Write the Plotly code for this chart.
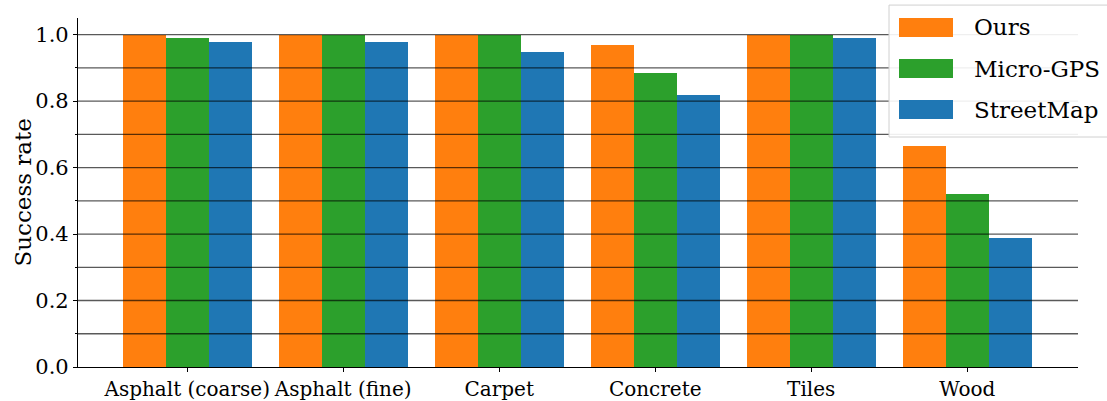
import plotly.graph_objects as go

categories = ["Asphalt (coarse)", "Asphalt (fine)", "Carpet", "Concrete", "Tiles", "Wood"]
ours = [1.0, 1.0, 1.0, 0.970, 1.0, 0.666]
micro_gps = [0.991, 0.998, 1.0, 0.886, 1.0, 0.521]
streetmap = [0.979, 0.979, 0.949, 0.819, 0.991, 0.389]

series = [
    ("Ours", ours, "#ff7f0e"),
    ("Micro-GPS", micro_gps, "#2ca02c"),
    ("StreetMap", streetmap, "#1f77b4"),
]
y_ticks = [0.0, 0.2, 0.4, 0.6, 0.8, 1.0]
grid_levels = [0.1, 0.2, 0.3, 0.4, 0.5, 0.6, 0.7, 0.8, 0.9, 1.0]

FONT = "DejaVu Serif"
bar_w = 0.275
xpos = list(range(len(categories)))

fig = go.Figure()
for i, (name, vals, color) in enumerate(series):
    offset = (i - 1) * bar_w
    fig.add_trace(go.Bar(
        x=[p + offset for p in xpos], y=vals, name=name,
        width=bar_w, marker=dict(color=color, line=dict(width=0)),
        showlegend=False,
    ))

# horizontal rules drawn over the bars
for lv in grid_levels:
    fig.add_shape(type="line", xref="paper", x0=0, x1=1, yref="y", y0=lv, y1=lv,
                  line=dict(color="rgba(0,0,0,0.65)", width=1.3), layer="above")

# legend box with wide colour patches
fig.add_shape(type="rect", xref="paper", yref="paper", x0=0.811, x1=1.06, y0=0.659, y1=1.037,
              line=dict(color="#d0d0d0", width=1), fillcolor="rgba(255,255,255,0.9)", layer="above")
for i, (name, vals, color) in enumerate(series):
    top = 1.0 - i * 0.1175
    fig.add_shape(type="rect", xref="paper", yref="paper",
                  x0=0.821, x1=0.875, y0=top - 0.0544, y1=top,
                  line=dict(width=0), fillcolor=color, layer="above")
    fig.add_annotation(xref="paper", yref="paper", x=0.894, y=top - 0.0272, text=name,
                       showarrow=False, xanchor="left", yanchor="middle",
                       font=dict(family=FONT, size=23, color="black"))

# y-axis title
fig.add_annotation(xref="paper", yref="paper", x=-0.056, y=0.5, text="Success rate",
                   textangle=-90, showarrow=False, xanchor="center", yanchor="middle",
                   font=dict(family=FONT, size=23, color="black"))

fig.update_layout(
    width=1107, height=401,
    margin=dict(l=78, r=29, t=18, b=34),
    plot_bgcolor="white", paper_bgcolor="white",
    barmode="overlay", bargap=0,
    font=dict(family=FONT, size=20, color="black"),
)
fig.update_xaxes(
    range=[-0.70, 5.71], tickvals=xpos, ticktext=categories, automargin=False,
    showline=True, linecolor="black", linewidth=1.2,
    ticks="outside", ticklen=4, tickcolor="black", showgrid=False, zeroline=False,
    tickfont=dict(family=FONT, size=20),
)
fig.update_yaxes(
    range=[0, 1.05], tickvals=y_ticks, ticktext=[f"{v:.1f}" for v in y_ticks], automargin=False,
    showline=True, linecolor="black", linewidth=1.2,
    ticks="outside", ticklen=4, tickcolor="black", showgrid=False, zeroline=False,
    minor=dict(tickvals=[0.1, 0.3, 0.5, 0.7, 0.9], ticks="outside", ticklen=2, tickcolor="black"),
    tickfont=dict(family=FONT, size=21),
)

fig.write_html("out.html")
